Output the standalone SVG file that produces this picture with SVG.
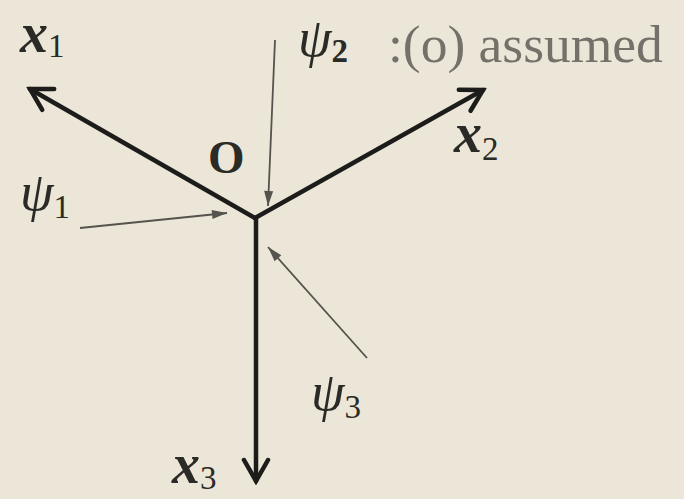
<svg xmlns="http://www.w3.org/2000/svg" width="684" height="499" viewBox="0 0 684 499">
<style>
.bg{fill:#ebe6d7}
.axis{stroke:#1c1c1a;stroke-width:4.5;fill:none;stroke-linecap:round}
.thin{stroke:#55534d;stroke-width:1.8;fill:none}
.lbl{font-family:"Liberation Serif","DejaVu Serif",serif;fill:#2a2a26}
.var{font-style:italic;font-weight:bold;font-size:56px}
.sub{font-size:33px}
.psi{font-style:italic;font-size:54px}
.note{font-size:53.5px;fill:#75716a}
</style>
<defs>
<marker id="openHead" markerUnits="userSpaceOnUse" viewBox="-26 -15 30 30" refX="0" refY="0" markerWidth="30" markerHeight="30" orient="auto">
<path d="M-21,-12 L0,0 L-21,12" fill="none" stroke="#1c1c1a" stroke-width="4.5" stroke-linejoin="miter" stroke-linecap="round"/>
</marker>
<marker id="thinHead" markerUnits="userSpaceOnUse" viewBox="-16 -6 18 12" refX="0" refY="0" markerWidth="18" markerHeight="12" orient="auto">
<path d="M-15,-4.5 L0,0 L-15,4.5 Z" fill="#55534d"/>
</marker>
</defs>
<rect class="bg" x="0" y="0" width="684" height="499"/>
<g id="connectors">
<line id="axis-x1" class="axis" x1="255" y1="218" x2="30" y2="89" marker-end="url(#openHead)"/>
<line id="axis-x2" class="axis" x1="255" y1="218" x2="483" y2="90" marker-end="url(#openHead)"/>
<line id="axis-x3" class="axis" x1="256" y1="218" x2="256" y2="481" marker-end="url(#openHead)"/>
<line id="arrow-psi1" class="thin" x1="80" y1="228" x2="227" y2="213" marker-end="url(#thinHead)"/>
<line id="arrow-psi2" class="thin" x1="275" y1="40" x2="268" y2="206" marker-end="url(#thinHead)"/>
<line id="arrow-psi3" class="thin" x1="367" y1="358" x2="268" y2="247" marker-end="url(#thinHead)"/>
</g>
<g id="label-x1"><text class="lbl" x="20" y="52"><tspan class="var">x</tspan><tspan class="sub" dy="5">1</tspan></text></g>
<g id="label-x2"><text class="lbl" x="454" y="152"><tspan class="var">x</tspan><tspan class="sub" dy="8">2</tspan></text></g>
<g id="label-x3"><text class="lbl" x="172" y="483"><tspan class="var">x</tspan><tspan class="sub" dy="6">3</tspan></text></g>
<g id="label-origin"><text class="lbl" x="208" y="173" font-size="47" font-weight="bold">O</text></g>
<g id="label-psi1"><text class="lbl" x="20" y="210"><tspan class="psi">ψ</tspan><tspan class="sub" dy="8">1</tspan></text></g>
<g id="label-psi2"><text class="lbl" x="298" y="56"><tspan class="psi">ψ</tspan><tspan class="sub" dy="6" font-weight="bold">2</tspan></text><text class="lbl note" x="388" y="62">:(o) assumed</text></g>
<g id="label-psi3"><text class="lbl" x="311" y="410"><tspan class="psi">ψ</tspan><tspan class="sub" dy="8">3</tspan></text></g>
</svg>
